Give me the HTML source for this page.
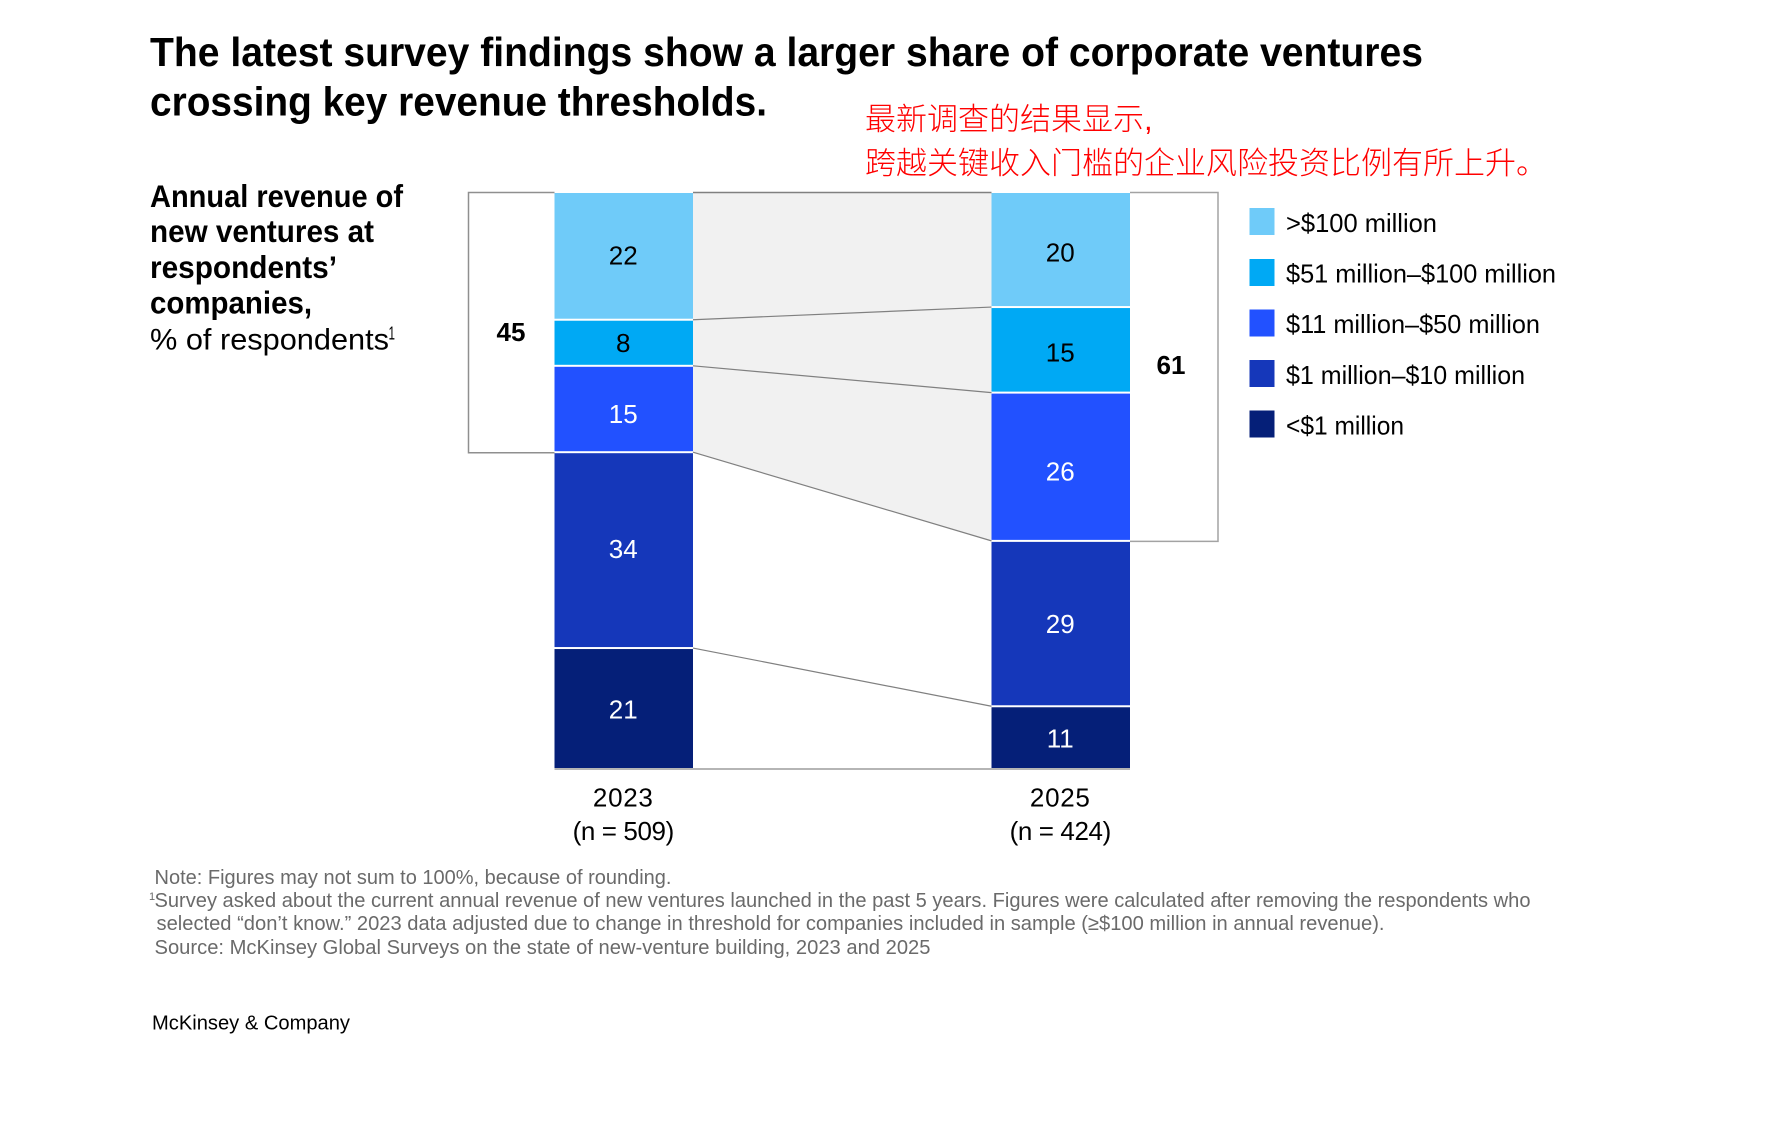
<!DOCTYPE html>
<html lang="en">
<head>
<meta charset="utf-8">
<title>Corporate venture revenue thresholds</title>
<style>
  html, body { margin: 0; padding: 0; background: #fff; }
  svg { display: block; font-family: "Liberation Sans", "Noto Sans CJK SC", sans-serif; }
  .title { font-size: 41px; font-weight: 700; fill: #000; }
  .cn { font-size: 31px; font-weight: 300; fill: #ff0000; font-family: "Liberation Sans", "Noto Sans CJK SC", sans-serif; }
  .sub { font-size: 31.5px; font-weight: 700; fill: #000; }
  .subr { font-size: 30px; fill: #000; }
  .legend-text { font-size: 26px; fill: #000; }
  .note { font-size: 20.5px; fill: #6a6a6a; }
  .brand { font-size: 20.5px; fill: #000; }
  .bar-value { font-size: 26px; text-anchor: middle; }
  .total { font-size: 26px; font-weight: 700; text-anchor: middle; fill: #000; }
  .axis-label { font-size: 26px; text-anchor: middle; fill: #000; }
  .axis-year { letter-spacing: 0.7px; }
  .axis-n { letter-spacing: -0.4px; }
</style>
</head>
<body>
<svg id="chart" width="1776" height="1132" viewBox="0 0 1776 1132" xmlns="http://www.w3.org/2000/svg">
  <rect x="0" y="0" width="1776" height="1132" fill="#ffffff"/>

  <g>
    <text class="title" x="150" y="66" textLength="1273" lengthAdjust="spacingAndGlyphs">The latest survey findings show a larger share of corporate ventures</text>
    <text class="title" x="150" y="115.5" textLength="617" lengthAdjust="spacingAndGlyphs">crossing key revenue thresholds.</text>
  </g>

  <g>
    <text class="cn" x="865" y="130">最新调查的结果显示,</text>
    <text class="cn" x="865" y="174">跨越关键收入门槛的企业风险投资比例有所上升。</text>
  </g>

  <g>
    <text class="sub" x="150" y="207" textLength="253" lengthAdjust="spacingAndGlyphs">Annual revenue of</text>
    <text class="sub" x="150" y="242" textLength="224" lengthAdjust="spacingAndGlyphs">new ventures at</text>
    <text class="sub" x="150" y="278" textLength="187" lengthAdjust="spacingAndGlyphs">respondents’</text>
    <text class="sub" x="150" y="313.5" textLength="162" lengthAdjust="spacingAndGlyphs">companies,</text>
    <text class="subr" x="150" y="349.5" textLength="239" lengthAdjust="spacingAndGlyphs">% of respondents</text>
    <text x="388.5" y="339.5" font-size="18" fill="#000" textLength="6.5" lengthAdjust="spacingAndGlyphs">1</text>
  </g>

  <g id="plot"></g>

  <g>
    <g>
      <rect x="1249.5" y="208" width="25" height="27" fill="#6fcbf9"/>
      <text class="legend-text" x="1286" y="232" textLength="151" lengthAdjust="spacingAndGlyphs">&gt;$100 million</text>
    </g>
    <g>
      <rect x="1249.5" y="259" width="25" height="27" fill="#00a9f4"/>
      <text class="legend-text" x="1286" y="282.7" textLength="270" lengthAdjust="spacingAndGlyphs">$51 million–$100 million</text>
    </g>
    <g>
      <rect x="1249.5" y="309.5" width="25" height="27" fill="#2251ff"/>
      <text class="legend-text" x="1286" y="333.2" textLength="254" lengthAdjust="spacingAndGlyphs">$11 million–$50 million</text>
    </g>
    <g>
      <rect x="1249.5" y="360" width="25" height="27" fill="#1537ba"/>
      <text class="legend-text" x="1286" y="383.8" textLength="239" lengthAdjust="spacingAndGlyphs">$1 million–$10 million</text>
    </g>
    <g>
      <rect x="1249.5" y="410.5" width="25" height="27" fill="#051f78"/>
      <text class="legend-text" x="1286" y="434.3" textLength="118" lengthAdjust="spacingAndGlyphs">&lt;$1 million</text>
    </g>
  </g>

  <g>
    <text class="note" x="154.5" y="884" textLength="517" lengthAdjust="spacingAndGlyphs">Note: Figures may not sum to 100%, because of rounding.</text>
    <text x="149" y="900" font-size="11" fill="#6a6a6a">1</text>
    <text class="note" x="154.5" y="907" textLength="1376" lengthAdjust="spacingAndGlyphs">Survey asked about the current annual revenue of new ventures launched in the past 5 years. Figures were calculated after removing the respondents who</text>
    <text class="note" x="156.5" y="930" textLength="1228" lengthAdjust="spacingAndGlyphs">selected “don’t know.” 2023 data adjusted due to change in threshold for companies included in sample (≥$100 million in annual revenue).</text>
    <text class="note" x="154.5" y="954" textLength="776" lengthAdjust="spacingAndGlyphs">Source: McKinsey Global Surveys on the state of new-venture building, 2023 and 2025</text>
  </g>

  <text class="brand" x="152" y="1029.5" textLength="198" lengthAdjust="spacingAndGlyphs">McKinsey &amp; Company</text>
</svg>

<script>
const categories = ["2023", "2025"];
const sampleSizes = ["(n = 509)", "(n = 424)"];
const seriesNames = ["over-100m", "51m-100m", "11m-50m", "1m-10m", "under-1m"];
const values2023 = [22, 8, 15, 34, 21];
const values2025 = [20, 15, 26, 29, 11];
const highlightedSeriesCount = 3;

const NS = "http://www.w3.org/2000/svg";
const plot = document.getElementById("plot");
const colors = ["#6fcbf9", "#00a9f4", "#2251ff", "#1537ba", "#051f78"];
const textColors = ["#000", "#000", "#fff", "#fff", "#fff"];
const labelOffsets = [[8.2, 9.3, 13.8, 7.8, 10.2], [11.7, 11.9, 13.7, 9.4, 10]];
const PLOT_TOP = 193;
const PLOT_BOTTOM = 769;
const BAR_W = 138.5;
const barLeft = [554.5, 991.5];
const columns = [values2023, values2025];

function sum(a) { return a.reduce(function (s, v) { return s + v; }, 0); }
function yScale(column, cumulative) {
  return PLOT_TOP + cumulative / sum(column) * (PLOT_BOTTOM - PLOT_TOP);
}
function cumulative(column, count) { return sum(column.slice(0, count)); }
function boundary(colIndex, count) { return yScale(columns[colIndex], cumulative(columns[colIndex], count)); }
function make(tag, attrs, parent) {
  const el = document.createElementNS(NS, tag);
  Object.keys(attrs).forEach(function (k) { el.setAttribute(k, attrs[k]); });
  parent.appendChild(el);
  return el;
}

const leftEdge = barLeft[0] + BAR_W;
const rightEdge = barLeft[1];
const hlBottomA = boundary(0, highlightedSeriesCount);
const hlBottomB = boundary(1, highlightedSeriesCount);

// Highlight band between the columns
const band = make("polygon", {
  points: leftEdge + "," + PLOT_TOP + " " + rightEdge + "," + PLOT_TOP + " " + rightEdge + "," + hlBottomB + " " + leftEdge + "," + hlBottomA,
  fill: "#f1f1f1"
}, plot);



// Brackets around the highlighted share
const bracketLeft = make("path", {
  d: "M" + barLeft[0] + " " + (PLOT_TOP - 0.5) + " H468.5 V" + (hlBottomA + 0.5) + " H" + barLeft[0],
  fill: "none", stroke: "#8f8f8f", "stroke-width": 1.5
}, plot);



const bracketRight = make("path", {
  d: "M" + (barLeft[1] + BAR_W) + " " + (PLOT_TOP - 0.5) + " H1218 V" + (hlBottomB + 0.5) + " H" + (barLeft[1] + BAR_W),
  fill: "none", stroke: "#a3a3a3", "stroke-width": 1.5
}, plot);



const topLine = make("line", {
  x1: leftEdge, x2: rightEdge, y1: PLOT_TOP - 0.5, y2: PLOT_TOP - 0.5, stroke: "#808080", "stroke-width": 1.5
}, plot);



// Connector lines between segment boundaries
for (let i = 1; i < seriesNames.length; i++) {
  const connector = make("line", {
    x1: leftEdge, x2: rightEdge, y1: boundary(0, i), y2: boundary(1, i), stroke: "#808080", "stroke-width": 1.2
  }, plot);
  
  
}

// Stacked bars
columns.forEach(function (column, c) {
  column.forEach(function (v, i) {
    const y0 = boundary(c, i);
    const y1 = boundary(c, i + 1);
    const bar = make("rect", {
      x: barLeft[c], y: y0 + (i === 0 ? 0 : 1), width: BAR_W,
      height: y1 - y0 - (i === 0 ? 1 : 2) + (i === column.length - 1 ? 1 : 0),
      fill: colors[i]
    }, plot);
    
    

    const label = make("text", {
      "class": "bar-value", x: barLeft[c] + BAR_W / 2 - 0.5,
      y: (y0 + y1) / 2 + labelOffsets[c][i], fill: textColors[i]
    }, plot);
    label.textContent = String(v);
    
    
  });
});

// Baseline
const baseline = make("line", {
  x1: barLeft[0], x2: barLeft[1] + BAR_W, y1: PLOT_BOTTOM, y2: PLOT_BOTTOM, stroke: "#b5b5b5", "stroke-width": 2
}, plot);



// Bracket totals
const total2023 = make("text", { "class": "total", x: 511, y: (PLOT_TOP + hlBottomA) / 2 + 18.5 }, plot);
total2023.textContent = String(cumulative(values2023, highlightedSeriesCount));



const total2025 = make("text", { "class": "total", x: 1176.5 - 5.5, y: (PLOT_TOP + hlBottomB) / 2 + 7 }, plot);
total2025.textContent = String(cumulative(values2025, highlightedSeriesCount));



// Category labels
categories.forEach(function (cat, c) {
  const year = make("text", { "class": "axis-label axis-year", x: barLeft[c] + BAR_W / 2 - 0.5, y: 806.5 }, plot);
  year.textContent = cat;
  
  

  const n = make("text", { "class": "axis-label axis-n", x: barLeft[c] + BAR_W / 2 - 0.5, y: 840 }, plot);
  n.textContent = sampleSizes[c];
  
  
});
</script>
</body>
</html>
